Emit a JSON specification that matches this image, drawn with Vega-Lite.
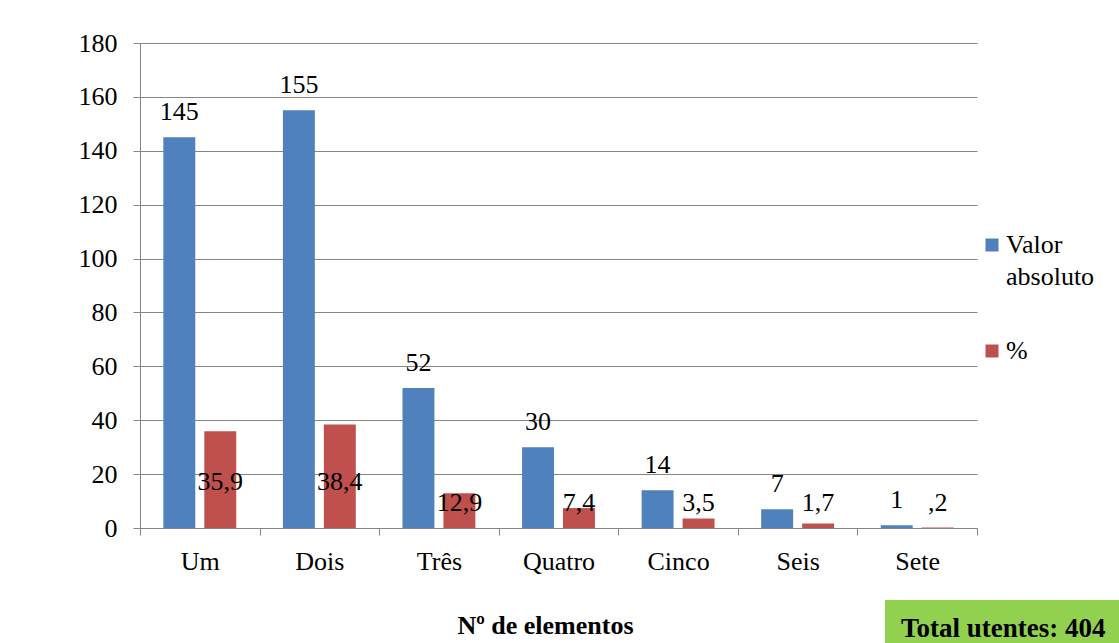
{
  "$schema": "https://vega.github.io/schema/vega-lite/v6.json",
  "width": 837,
  "height": 485,
  "autosize": {"type": "none"},
  "padding": {"left": 140, "top": 43, "right": 142, "bottom": 115},
  "background": "white",
  "config": {"view": {"stroke": null}, "font": "Liberation Serif, Tinos, Nimbus Roman, FreeSerif, DejaVu Serif, serif"},
  "data": {
    "values": [
      {"cat": "Um", "serie": "Valor absoluto", "valor": 145, "rotulo": "145"},
      {"cat": "Dois", "serie": "Valor absoluto", "valor": 155, "rotulo": "155"},
      {"cat": "Três", "serie": "Valor absoluto", "valor": 52, "rotulo": "52"},
      {"cat": "Quatro", "serie": "Valor absoluto", "valor": 30, "rotulo": "30"},
      {"cat": "Cinco", "serie": "Valor absoluto", "valor": 14, "rotulo": "14"},
      {"cat": "Seis", "serie": "Valor absoluto", "valor": 7, "rotulo": "7"},
      {"cat": "Sete", "serie": "Valor absoluto", "valor": 1, "rotulo": "1"},
      {"cat": "Um", "serie": "%", "valor": 35.9, "rotulo": "35,9"},
      {"cat": "Dois", "serie": "%", "valor": 38.4, "rotulo": "38,4"},
      {"cat": "Três", "serie": "%", "valor": 12.9, "rotulo": "12,9"},
      {"cat": "Quatro", "serie": "%", "valor": 7.4, "rotulo": "7,4"},
      {"cat": "Cinco", "serie": "%", "valor": 3.5, "rotulo": "3,5"},
      {"cat": "Seis", "serie": "%", "valor": 1.7, "rotulo": "1,7"},
      {"cat": "Sete", "serie": "%", "valor": 0.2, "rotulo": ",2"}
    ]
  },
  "encoding": {
    "x": {
      "field": "cat",
      "type": "nominal",
      "sort": ["Um", "Dois", "Três", "Quatro", "Cinco", "Seis", "Sete"],
      "scale": {"paddingInner": 0, "paddingOuter": 0},
      "axis": {
        "title": "Nº de elementos",
        "titleFontSize": 26,
        "titleFontWeight": "bold",
        "titleColor": "black",
        "titleX": 405,
        "titleY": 105,
        "titleBaseline": "alphabetic",
        "labelAngle": 0,
        "labelFontSize": 26,
        "labelColor": "black",
        "labelPadding": 13,
        "tickBand": "extent",
        "tickSize": 7,
        "tickColor": "#868686",
        "domainColor": "#868686",
        "grid": false
      }
    },
    "xOffset": {
      "field": "serie",
      "type": "nominal",
      "sort": ["Valor absoluto", "%"],
      "scale": {"paddingInner": 0.22, "paddingOuter": 0.57}
    }
  },
  "layer": [
    {
      "mark": {"type": "bar"},
      "encoding": {
        "y": {
          "field": "valor",
          "type": "quantitative",
          "title": null,
          "scale": {"domain": [0, 180]},
          "axis": {
            "title": null,
            "values": [0, 20, 40, 60, 80, 100, 120, 140, 160, 180],
            "labelFontSize": 26,
            "labelColor": "black",
            "labelPadding": 16,
            "tickSize": 7,
            "tickColor": "#868686",
            "domainColor": "#868686",
            "grid": true,
            "gridColor": "#868686"
          }
        },
        "color": {
          "field": "serie",
          "type": "nominal",
          "scale": {"domain": ["Valor absoluto", "%"], "range": ["#4F81BD", "#C0504D"]},
          "legend": {
            "title": null,
            "orient": "none",
            "legendX": 839,
            "legendY": 189,
            "padding": 0,
            "symbolType": "square",
            "symbolSize": 169,
            "symbolStrokeWidth": 0,
            "labelFontSize": 26,
            "labelColor": "black",
            "labelOffset": 1,
            "labelLimit": 400,
            "labelBaseline": "top",
            "rowPadding": 48,
            "labelExpr": "datum.label == 'Valor absoluto' ? ['Valor', 'absoluto'] : datum.label",
            "encode": {"labels": {"update": {"dy": {"value": -13}, "lineHeight": {"value": 32}}}}
          }
        }
      }
    },
    {
      "transform": [{"filter": "datum.serie == 'Valor absoluto'"}],
      "mark": {"type": "text", "baseline": "alphabetic", "dy": -17, "fontSize": 26, "color": "black"},
      "encoding": {
        "y": {"field": "valor", "type": "quantitative", "title": null},
        "text": {"field": "rotulo"}
      }
    },
    {
      "transform": [{"filter": "datum.serie == '%' && datum.valor >= 30"}],
      "mark": {"type": "text", "baseline": "alphabetic", "dy": -38, "fontSize": 26, "color": "black"},
      "encoding": {
        "y": {"datum": 0, "type": "quantitative", "title": null},
        "text": {"field": "rotulo"}
      }
    },
    {
      "transform": [{"filter": "datum.serie == '%' && datum.valor < 30"}],
      "mark": {"type": "text", "baseline": "alphabetic", "dy": -17, "fontSize": 26, "color": "black"},
      "encoding": {
        "y": {"datum": 0, "type": "quantitative", "title": null},
        "text": {"field": "rotulo"}
      }
    },
    {
      "mark": {"type": "point", "opacity": 0},
      "encoding": {
        "shape": {
          "datum": "total",
          "legend": {
            "title": "Total utentes: 404",
            "orient": "none",
            "legendX": 745,
            "legendY": 557,
            "fillColor": "#92D050",
            "padding": 16,
            "titleFontSize": 27,
            "titleFontWeight": "bold",
            "titleColor": "black",
            "titleLimit": 400,
            "titlePadding": 0,
            "symbolOpacity": 0,
            "symbolSize": 0,
            "labelOpacity": 0,
            "labelFontSize": 1,
            "encode": {"title": {"update": {"dx": {"value": 5}}}}
          }
        }
      }
    }
  ]
}
